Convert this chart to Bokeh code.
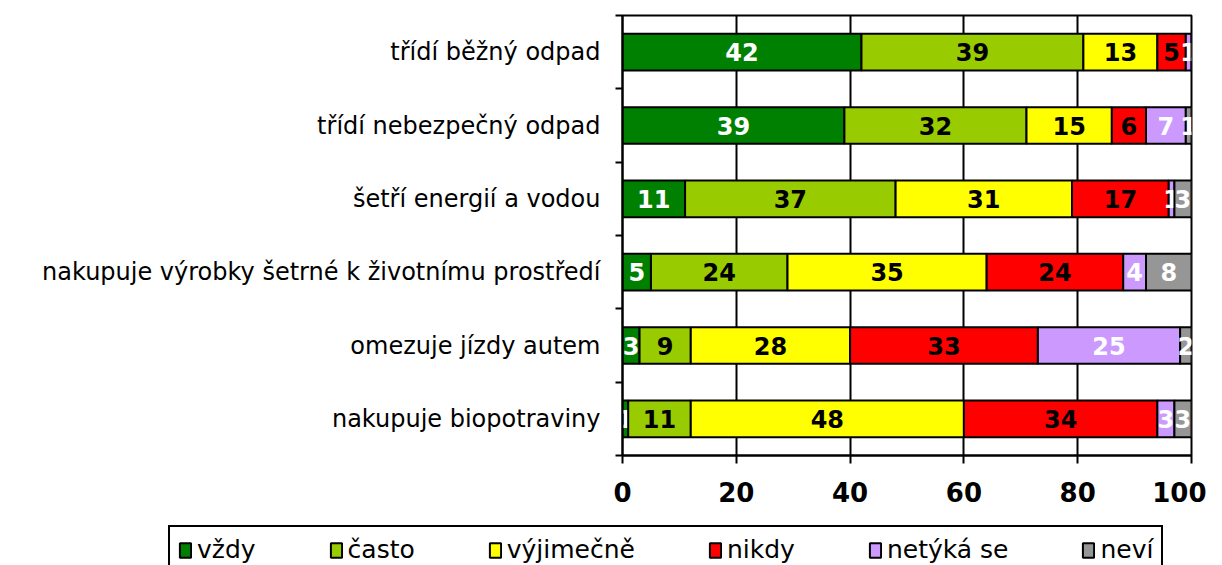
import numpy as np
from bokeh.plotting import figure
from bokeh.layouts import column
from bokeh.models import (ColumnDataSource, FixedTicker, Legend, LegendItem, Range1d)
from bokeh.core.properties import value
from bokeh.embed import file_html
from bokeh.resources import INLINE

categories = ["třídí běžný odpad", "třídí nebezpečný odpad", "šetří energií a vodou",
              "nakupuje výrobky šetrné k životnímu prostředí", "omezuje jízdy autem",
              "nakupuje biopotraviny"]
series = ["vždy", "často", "výjimečně", "nikdy", "netýká se", "neví"]
vzdy = [42, 39, 11, 5, 3, 1]
casto = [39, 32, 37, 24, 9, 11]
vyjimecne = [13, 15, 31, 35, 28, 48]
nikdy = [5, 6, 17, 24, 33, 34]
netyka = [1, 7, 1, 4, 25, 3]
nevi = [0, 1, 3, 8, 2, 3]
x_ticks = [0, 20, 40, 60, 80, 100]

colors = ["#008000", "#99CC00", "#FFFF00", "#FF0000", "#CC99FF", "#969696"]
label_colors = ["white", "black", "black", "black", "white", "white"]
FONT = "DejaVu Sans"

data = [vzdy, casto, vyjimecne, nikdy, netyka, nevi]
n = len(categories)
ypos = [n - 0.5 - i for i in range(n)]

p = figure(width=1206, height=513, output_backend="svg", toolbar_location=None,
           x_range=Range1d(0, 100), y_range=Range1d(0, n),
           min_border_left=622, min_border_right=15, min_border_top=15, min_border_bottom=58)
p.outline_line_color = "black"
p.outline_line_width = 2
p.background_fill_color = "white"
p.frame_align = False

# separate strip holding the legend
pl = figure(width=1206, height=52, output_backend="svg", toolbar_location=None,
            x_range=Range1d(0, 1), y_range=Range1d(0, 1),
            x_axis_location=None, y_axis_location=None,
            min_border_left=0, min_border_right=0, min_border_top=0, min_border_bottom=0)
pl.outline_line_color = None
pl.xgrid.grid_line_color = None
pl.ygrid.grid_line_color = None
pl.frame_align = False

left = np.zeros(n)
items = []
for k, (name, vals) in enumerate(zip(series, data)):
    vals = np.array(vals, dtype=float)
    right = left + vals
    src = ColumnDataSource(dict(y=ypos, left=left.copy(), right=right.copy()))
    p.hbar(y="y", left="left", right="right", height=0.5, source=src,
           fill_color=colors[k], line_color="black", line_width=2)
    # swatch-only renderer for the legend strip (no drawable data)
    dummy = pl.hbar(y=[np.nan], left=[np.nan], right=[np.nan], height=0.5,
                    fill_color=colors[k], line_color="black", line_width=2)
    items.append(LegendItem(label=name, renderers=[dummy]))
    mask = vals > 0
    lsrc = ColumnDataSource(dict(x=((left + right) / 2)[mask], y=np.array(ypos)[mask],
                                 t=[str(int(v)) for v in vals[mask]]))
    p.text(x="x", y="y", text="t", source=lsrc, text_align="center", text_baseline="middle",
           text_font=value(FONT), text_font_style="bold", text_font_size="24px",
           text_color=label_colors[k])
    left = right

# grid
p.ygrid.grid_line_color = None
p.xgrid.ticker = FixedTicker(ticks=x_ticks)
p.xgrid.grid_line_color = "black"
p.xgrid.grid_line_width = 2

# x axis
p.xaxis.ticker = FixedTicker(ticks=x_ticks)
p.xaxis.axis_line_width = 2
p.xaxis.major_tick_line_width = 2
p.xaxis.major_tick_in = 0
p.xaxis.major_tick_out = 8
p.xaxis.minor_tick_line_color = None
p.xaxis.major_label_text_font = FONT
p.xaxis.major_label_text_font_style = "bold"
p.xaxis.major_label_text_font_size = "26px"
p.xaxis.major_label_text_color = "black"
p.xaxis.major_label_standoff = 18

# y axis
p.yaxis.ticker = FixedTicker(ticks=ypos, minor_ticks=list(range(n + 1)))
p.yaxis.major_label_overrides = {y: c for y, c in zip(ypos, categories)}
p.yaxis.axis_line_width = 2
p.yaxis.major_tick_line_color = None
p.yaxis.major_tick_in = 0
p.yaxis.major_tick_out = 0
p.yaxis.minor_tick_line_width = 2
p.yaxis.minor_tick_in = 0
p.yaxis.minor_tick_out = 7
p.yaxis.major_label_text_font = FONT
p.yaxis.major_label_text_font_size = "24px"
p.yaxis.major_label_text_color = "black"
p.yaxis.major_label_standoff = 15

legend = Legend(items=items, orientation="horizontal", location=(168, -9),
                border_line_color="black", border_line_width=2, border_line_alpha=1.0,
                label_text_font=FONT, label_text_font_size="25px",
                label_text_color="black",
                glyph_width=14, glyph_height=18, label_standoff=5, spacing=73,
                padding=8, margin=0, label_height=28)
pl.add_layout(legend)

layout = column(p, pl, spacing=0)
open("out.html", "w").write(file_html(layout, INLINE))
